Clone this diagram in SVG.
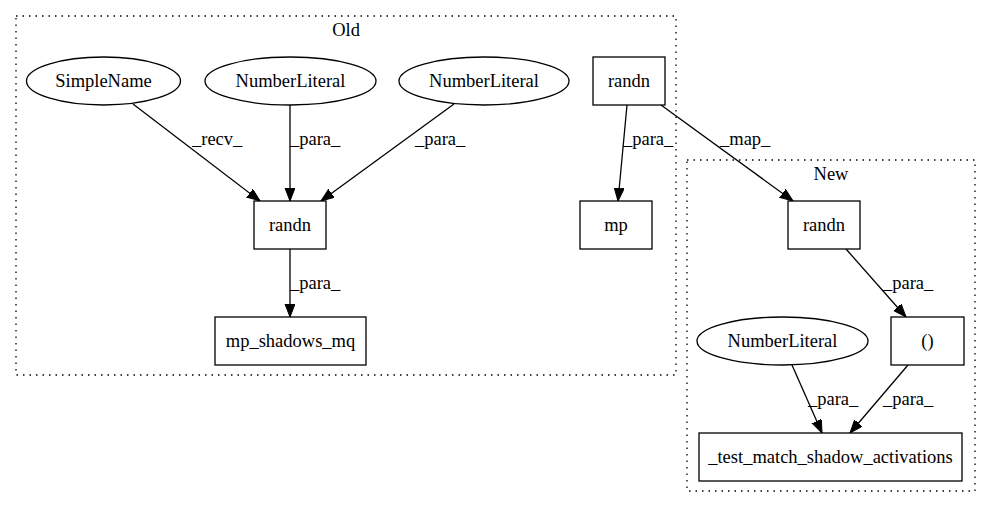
<svg xmlns="http://www.w3.org/2000/svg" width="991" height="508" viewBox="0 0 991 508">
<style>
text{font-family:"Liberation Serif","Times New Roman",serif;font-size:18.5px;fill:#000}
.c{text-anchor:middle}
.cl{fill:none;stroke:#000;stroke-width:1.3;stroke-dasharray:1.5,5}
.n{fill:#fff;stroke:#000;stroke-width:1.3}
.e{stroke:#000;stroke-width:1.3;fill:none;marker-end:url(#a)}
</style>
<defs>
<marker id="a" markerUnits="userSpaceOnUse" markerWidth="14" markerHeight="11" refX="13" refY="5" orient="auto">
<path d="M0,0 L13,5 L0,10 z" fill="#000" stroke="#000" stroke-width="1"/>
</marker>
</defs>
<rect width="991" height="508" fill="#fff"/>
<g id="cluster_old">
<rect class="cl" x="16" y="16" width="660" height="359"/>
<text class="c" x="346" y="36">Old</text>
</g>
<g id="cluster_new">
<rect class="cl" x="687" y="160" width="288" height="331"/>
<text class="c" x="831" y="180">New</text>
</g>
<g id="connectors">
<line class="e" x1="133" y1="104" x2="260" y2="201"/>
<text x="192" y="145">_recv_</text>
<line class="e" x1="290" y1="105" x2="290" y2="201"/>
<text x="290" y="145">_para_</text>
<line class="e" x1="454" y1="104" x2="321" y2="201"/>
<text x="415" y="145">_para_</text>
<line class="e" x1="290" y1="249" x2="290" y2="317"/>
<text x="290" y="289">_para_</text>
<line class="e" x1="627" y1="105" x2="618" y2="201"/>
<text x="623" y="145">_para_</text>
<line class="e" x1="661" y1="105" x2="793" y2="201"/>
<text x="720" y="145">_map_</text>
<line class="e" x1="846" y1="249" x2="906" y2="317"/>
<text x="883" y="289">_para_</text>
<line class="e" x1="792" y1="365" x2="822" y2="433"/>
<text x="808" y="405">_para_</text>
<line class="e" x1="908" y1="365" x2="850" y2="433"/>
<text x="883" y="405">_para_</text>
</g>
<g id="SimpleName"><ellipse class="n" cx="103.5" cy="81" rx="77" ry="24"/><text class="c" x="103.5" y="87">SimpleName</text></g>
<g id="NumberLiteral1"><ellipse class="n" cx="290.5" cy="81" rx="85.5" ry="24"/><text class="c" x="290.5" y="87">NumberLiteral</text></g>
<g id="NumberLiteral2"><ellipse class="n" cx="484" cy="81" rx="85" ry="24"/><text class="c" x="484" y="87">NumberLiteral</text></g>
<g id="randn_old_top"><rect class="n" x="593" y="57" width="72" height="48"/><text class="c" x="629" y="87">randn</text></g>
<g id="randn_old"><rect class="n" x="254" y="201" width="72" height="48"/><text class="c" x="290" y="231">randn</text></g>
<g id="mp"><rect class="n" x="580" y="201" width="72" height="48"/><text class="c" x="616" y="231">mp</text></g>
<g id="mp_shadows_mq"><rect class="n" x="215" y="317" width="151" height="48"/><text class="c" x="290.5" y="347">mp_shadows_mq</text></g>
<g id="randn_new"><rect class="n" x="788" y="201" width="72" height="48"/><text class="c" x="824" y="231">randn</text></g>
<g id="paren"><rect class="n" x="891" y="317" width="73" height="48"/><text class="c" x="927.5" y="347">()</text></g>
<g id="NumberLiteral3"><ellipse class="n" cx="782.5" cy="341" rx="85.5" ry="24"/><text class="c" x="782.5" y="347">NumberLiteral</text></g>
<g id="test_match"><rect class="n" x="699" y="433" width="263" height="48"/><text class="c" x="830.5" y="463">_test_match_shadow_activations</text></g>
</svg>
